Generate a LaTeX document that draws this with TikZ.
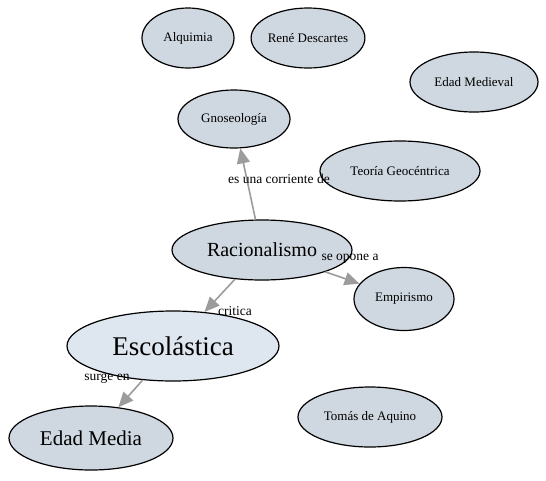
\documentclass[tikz,border=0pt]{standalone}
\usepackage{fontspec}
\setmainfont{Liberation Serif}
\usetikzlibrary{arrows.meta,shapes.geometric}
\definecolor{nodefill}{HTML}{CFD7E0}
\definecolor{mainfill}{HTML}{DEE6EF}
\definecolor{edgegray}{HTML}{9C9C9C}
\tikzset{concept/.style={ellipse, draw=black, line width=1.2pt, fill=nodefill,
  inner sep=0pt, font=\fontsize{13}{15}\selectfont},
  link/.style={draw=edgegray, line width=1.6pt,
  -{Triangle[length=15pt,width=13pt,fill=edgegray]}},
  linklabel/.style={font=\fontsize{13.5}{15}\selectfont, inner sep=0pt}}

\begin{document}
\begin{tikzpicture}[x=1pt,y=-1pt]
  \useasboundingbox (0,0) rectangle (546,480);
  % unconnected concepts
  \node[concept, minimum width=92, minimum height=60] (alq) at (188,38) {Alquimia};
  \node[concept, minimum width=110, minimum height=60] (ren) at (308,38) {René Descartes};
  \node[concept, minimum width=128, minimum height=60] (med) at (474,82) {Edad Medieval};
  \node[concept, minimum width=112, minimum height=58] (gno) at (234,119) {Gnoseología};
  \node[concept, minimum width=160, minimum height=60] (geo) at (400,171) {Teoría Geocéntrica};
  \node[concept, minimum width=100, minimum height=63] (emp) at (404,299) {Empirismo};
  \node[concept, minimum width=144, minimum height=60] (tom) at (370,417) {Tomás de Aquino};
  % main concepts
  \node[concept, minimum width=180, minimum height=60, font=\fontsize{20}{23}\selectfont] (rac) at (262,250) {Racionalismo};
  \node[concept, fill=mainfill, minimum width=212, minimum height=70, font=\fontsize{27}{30}\selectfont] (esc) at (173,346) {Escolástica};
  \node[concept, minimum width=164, minimum height=64, font=\fontsize{21}{24}\selectfont] (edm) at (91,438) {Edad Media};
  % relations
  \draw[link] (rac) -- (gno);
  \draw[link] (rac) -- (emp);
  \draw[link] (rac) -- (esc);
  \draw[link] (esc) -- (edm);
  \node[linklabel] (l1) at (279,179) {es una corriente de};
  \node[linklabel] (l2) at (350,259) {se opone a};
  \node[linklabel] (l3) at (235,311) {critica};
  \node[linklabel] (l4) at (107,378) {surge en};
\end{tikzpicture}
\end{document}
